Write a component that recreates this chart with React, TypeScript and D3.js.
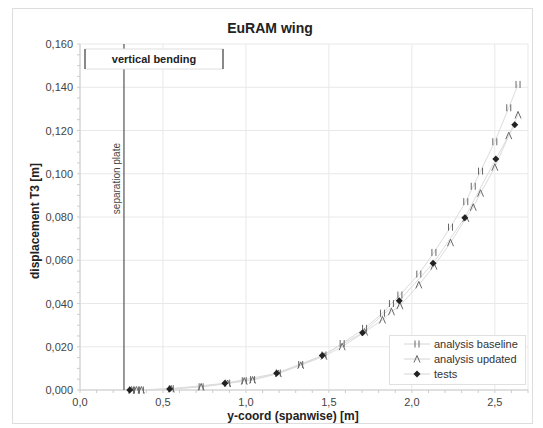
import React from 'react';
import * as d3 from 'd3';

// analysis nodes (shared by baseline and updated)
const nodeX = [0.31, 0.34, 0.37, 0.55, 0.73, 0.89, 0.99, 1.04, 1.195, 1.33, 1.47, 1.58, 1.715, 1.823, 1.877, 1.928, 2.042, 2.133, 2.233, 2.325, 2.37, 2.414, 2.5, 2.584, 2.64];
const baselineY = [0, 0, 0, 0.0006, 0.0015, 0.0032, 0.0043, 0.0048, 0.0079, 0.0118, 0.0162, 0.0215, 0.0285, 0.0355, 0.04, 0.0439, 0.0536, 0.0636, 0.0753, 0.0871, 0.0942, 0.1012, 0.1148, 0.1305, 0.1413];
const updatedY = [0, 0, 0, 0.0005, 0.0014, 0.003, 0.0041, 0.0046, 0.0076, 0.0114, 0.0156, 0.02, 0.0268, 0.0324, 0.0362, 0.039, 0.0486, 0.0573, 0.0681, 0.0794, 0.0845, 0.091, 0.103, 0.1176, 0.1272];
const testX = [0.3, 0.54, 0.873, 1.185, 1.46, 1.703, 1.924, 2.128, 2.319, 2.506, 2.62];
const testY = [0, 0.0005, 0.0031, 0.0077, 0.0159, 0.0265, 0.0413, 0.0586, 0.0797, 0.1068, 0.1227];
const xTicks = [0, 0.5, 1.0, 1.5, 2.0, 2.5];
const yTicks = [0, 0.02, 0.04, 0.06, 0.08, 0.1, 0.12, 0.14, 0.16];
const separationX = 0.265;
const legendLabels = ['analysis baseline', 'analysis updated', 'tests'];

const FONT = '"Liberation Sans", Arial, sans-serif';

const Baseline = ({ x, y }: { x: number; y: number }) => (
  <g stroke="#666" strokeWidth={1}>
    <line x1={x - 2} x2={x - 2} y1={y - 3.5} y2={y + 3.5} />
    <line x1={x + 2} x2={x + 2} y1={y - 3.5} y2={y + 3.5} />
  </g>
);
const Updated = ({ x, y }: { x: number; y: number }) => (
  <path d={`M${x - 3},${y + 3.5}L${x},${y - 3.5}L${x + 3},${y + 3.5}`} fill="none" stroke="#666" strokeWidth={1} />
);
const Test = ({ x, y }: { x: number; y: number }) => (
  <path d={`M${x},${y - 3.5}L${x + 3.5},${y}L${x},${y + 3.5}L${x - 3.5},${y}Z`} fill="#222" />
);

export default function App() {
  const left = 80, right = 528, top = 44, bottom = 390;
  const x = d3.scaleLinear().domain([0, 2.7]).range([left, right]);
  const y = d3.scaleLinear().domain([0, 0.16]).range([bottom, top]);
  const fmtY = (v: number) => d3.format('.3f')(v).replace('.', ',');
  const fmtX = (v: number) => d3.format('.1f')(v).replace('.', ',');

  const line = d3.line<[number, number]>().x(d => x(d[0])).y(d => y(d[1]));
  const basePts = nodeX.map((v, i) => [v, baselineY[i]] as [number, number]);
  const updPts = nodeX.map((v, i) => [v, updatedY[i]] as [number, number]);
  const testPts = testX.map((v, i) => [v, testY[i]] as [number, number]);

  const minorY = d3.range(0, 0.1601, 0.005);
  const minorX = d3.range(0, 2.71, 0.1);
  const sx = x(separationX);
  const legendRows = [344, 359, 374];

  return (
    <svg width={543} height={428} style={{ position: 'absolute', left: 0, top: 0, fontFamily: FONT }}>
      <rect x={0} y={0} width={543} height={428} fill="#fff" />
      <rect x={12.5} y={8.5} width={520} height={415} fill="none" stroke="#ddd" />
      <text x={270} y={33} textAnchor="middle" fontSize={14} fontWeight="bold" fill="#222">EuRAM wing</text>

      {/* grid */}
      {yTicks.map(t => (
        <line key={'gy' + t} x1={left} x2={right} y1={y(t)} y2={y(t)} stroke="#e8e8e8" />
      ))}
      {xTicks.map(t => (
        <line key={'gx' + t} x1={x(t)} x2={x(t)} y1={top} y2={bottom} stroke="#e8e8e8" />
      ))}
      <line x1={right} x2={right} y1={top} y2={bottom} stroke="#e8e8e8" />
      <line x1={left} x2={left} y1={top} y2={bottom} stroke="#ccc" />
      <line x1={left} x2={right} y1={bottom} y2={bottom} stroke="#ccc" />
      {minorY.map(t => (
        <line key={'my' + t} x1={left - 3} x2={left} y1={y(t)} y2={y(t)} stroke="#ccc" />
      ))}
      {minorX.map(t => (
        <line key={'mx' + t} x1={x(t)} x2={x(t)} y1={bottom} y2={bottom + 3} stroke="#ccc" />
      ))}

      {/* tick labels */}
      {yTicks.map(t => (
        <text key={'ly' + t} x={73} y={y(t) + 4} textAnchor="end" fontSize={11} fill="#444">{fmtY(t)}</text>
      ))}
      {xTicks.map(t => (
        <text key={'lx' + t} x={x(t)} y={406} textAnchor="middle" fontSize={11} fill="#444">{fmtX(t)}</text>
      ))}
      <text x={293} y={420} textAnchor="middle" fontSize={12} fontWeight="bold" fill="#222">y-coord (spanwise) [m]</text>
      <text transform="translate(39,221) rotate(-90)" textAnchor="middle" fontSize={12} fontWeight="bold" fill="#222">displacement T3 [m]</text>

      {/* separation plate */}
      <line x1={sx} x2={sx} y1={top} y2={bottom} stroke="#555" strokeWidth={1.2} />
      <text transform={`translate(${sx - 4},143) rotate(-90)`} textAnchor="end" fontSize={10} fill="#444">separation plate</text>
      <rect x={85} y={49} width={138} height={20} fill="#fff" stroke="#e0e0e0" />
      <line x1={85} x2={85} y1={49} y2={69} stroke="#444" strokeWidth={1.2} />
      <line x1={223} x2={223} y1={49} y2={69} stroke="#444" strokeWidth={1.2} />
      <text x={154} y={63} textAnchor="middle" fontSize={11} fontWeight="bold" fill="#222">vertical bending</text>

      {/* series lines */}
      <path d={line(basePts) || ''} fill="none" stroke="#dcdcdc" />
      <path d={line(updPts) || ''} fill="none" stroke="#dcdcdc" />
      <path d={line(testPts) || ''} fill="none" stroke="#dcdcdc" />

      {basePts.map((d, i) => <Baseline key={'b' + i} x={x(d[0])} y={y(d[1])} />)}
      {updPts.map((d, i) => <Updated key={'u' + i} x={x(d[0])} y={y(d[1])} />)}
      {testPts.map((d, i) => <Test key={'t' + i} x={x(d[0])} y={y(d[1])} />)}

      {/* legend */}
      <rect x={389.5} y={335.5} width={136} height={49} fill="#fff" stroke="#e0e0e0" />
      {legendLabels.map((lab, i) => (
        <g key={lab}>
          <line x1={404} x2={430} y1={legendRows[i]} y2={legendRows[i]} stroke="#d4d4d4" />
          {i === 0 && <Baseline x={417} y={legendRows[i]} />}
          {i === 1 && <Updated x={417} y={legendRows[i]} />}
          {i === 2 && <Test x={417} y={legendRows[i]} />}
          <text x={434} y={legendRows[i] + 4} fontSize={11} fill="#333">{lab}</text>
        </g>
      ))}
    </svg>
  );
}
